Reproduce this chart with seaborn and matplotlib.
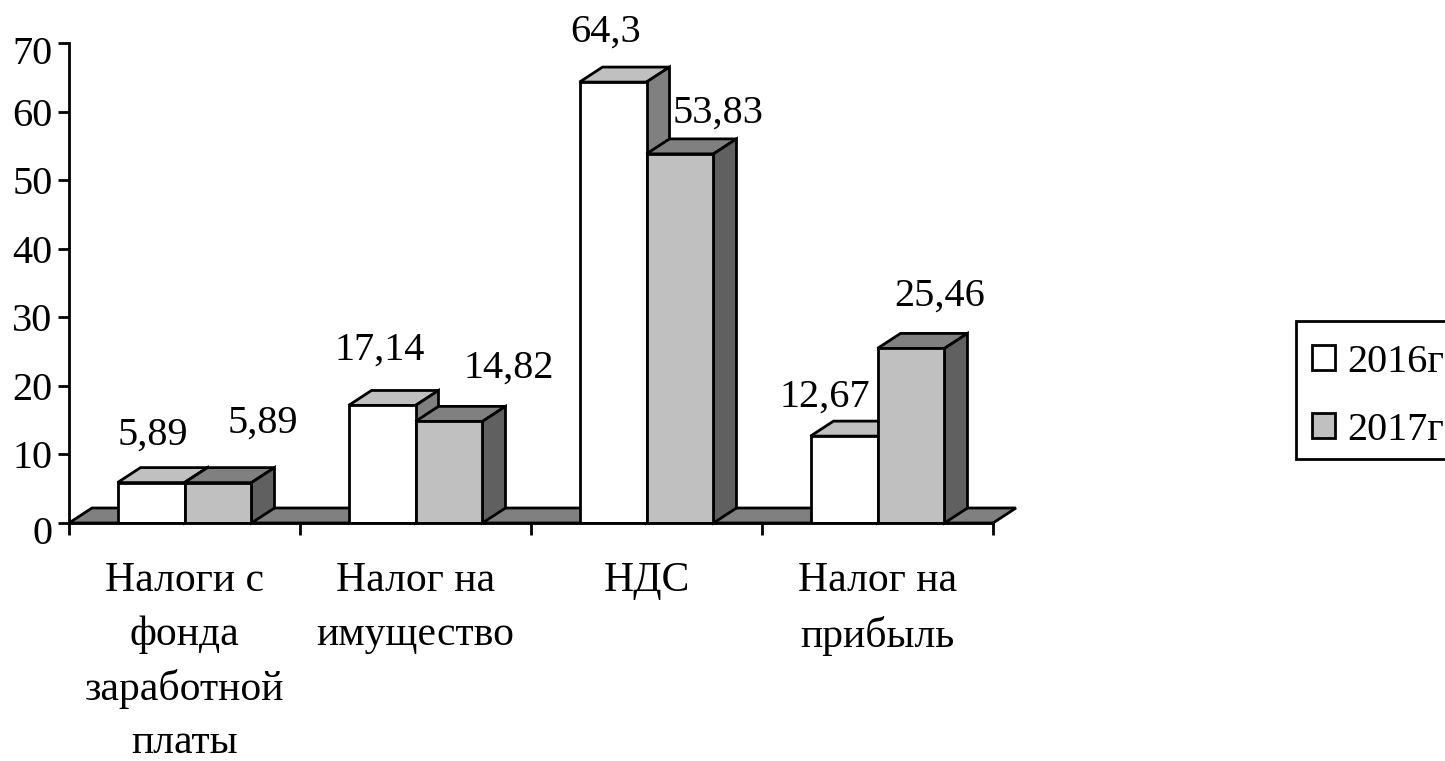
import pandas as pd
import matplotlib
matplotlib.use("Agg")
import matplotlib.pyplot as plt
from matplotlib.patches import Polygon, Rectangle
from matplotlib.transforms import Affine2D
import seaborn as sns

categories = ['Налоги с\nфонда\nзаработной\nплаты', 'Налог на\nимущество', 'НДС', 'Налог на\nприбыль']
years = ['2016г', '2017г']
values_2016 = [5.89, 17.14, 64.3, 12.67]
values_2017 = [5.89, 14.82, 53.83, 25.46]

colors = {'2016г': 'white', '2017г': '#c0c0c0'}
top_colors = {'2016г': '#c0c0c0', '2017г': '#808080'}
side_colors = {'2016г': '#808080', '2017г': '#606060'}

# desplazamiento de cada etiqueta respecto al centro superior de la barra (px)
offsets_2016 = [(2, 47), (-2, 55), (-7, 50), (-19, 39)]
offsets_2017 = [(45, 59), (60, 53), (38, 41), (29, 52)]

W, H = 1445, 761
LW = 2
FS = 29
FS_X = 30

sns.set_style('white')
plt.rcParams['font.family'] = ['Liberation Serif', 'DejaVu Serif']

df = pd.DataFrame({
    'cat': categories * 2,
    'year': [years[0]] * 4 + [years[1]] * 4,
    'val': values_2016 + values_2017,
})

fig = plt.figure(figsize=(W / 100, H / 100), dpi=100)
ax = fig.add_axes([69 / W, 1 - 523 / H, (993 - 69) / W, (523 - 43) / H])

sns.barplot(data=df, x='cat', y='val', hue='year', palette=colors, width=0.58, saturation=1,
            edgecolor='black', linewidth=LW, ax=ax)

ax.set_xlim(-0.5, 3.5)
ax.set_ylim(0, 70)
ax.set_xlabel('')
ax.set_ylabel('')
ax.set_yticks(range(0, 71, 10))

# profundidad del efecto 3D en unidades de datos
depth_x = 23 / 231
depth_y = 15 * 70 / 480

# piso
ax.add_patch(Polygon([(-0.5, 0), (3.5, 0), (3.5 + depth_x, depth_y), (-0.5 + depth_x, depth_y)],
                     closed=True, facecolor='#808080', edgecolor='black', linewidth=LW,
                     clip_on=False, zorder=1.5))

all_offsets = [offsets_2016, offsets_2017]
for i, container in enumerate(ax.containers):
    year = years[i]
    z = 2 + i
    for bar, off in zip(container.patches, all_offsets[i]):
        x0 = bar.get_x()
        x1 = x0 + bar.get_width()
        h = bar.get_height()
        bar.set_zorder(z + 0.2)
        ax.add_patch(Polygon([(x0, h), (x1, h), (x1 + depth_x, h + depth_y), (x0 + depth_x, h + depth_y)],
                             closed=True, facecolor=top_colors[year], edgecolor='black',
                             linewidth=LW, clip_on=False, zorder=z))
        ax.add_patch(Polygon([(x1, 0), (x1 + depth_x, depth_y), (x1 + depth_x, h + depth_y), (x1, h)],
                             closed=True, facecolor=side_colors[year], edgecolor='black',
                             linewidth=LW, clip_on=False, zorder=z))
        ax.annotate(f'{h:g}'.replace('.', ','), ((x0 + x1) / 2, h), xytext=off,
                    textcoords='offset pixels', ha='center', va='center', fontsize=FS,
                    color='black', annotation_clip=False, zorder=6)

sns.despine(ax=ax)
for s in ['left', 'bottom']:
    ax.spines[s].set_linewidth(LW)
    ax.spines[s].set_color('black')
    ax.spines[s].set_zorder(5)

ax.set_xticks([-0.5, 0.5, 1.5, 2.5, 3.5], minor=True)
ax.tick_params(axis='x', which='minor', length=8.5, width=LW, color='black', bottom=True)
ax.tick_params(axis='x', which='major', length=0, pad=28, labelsize=FS_X, labelcolor='black')
ax.tick_params(axis='y', length=8, width=LW, color='black', left=True, pad=4, labelsize=FS, labelcolor='black')
for t in ax.get_xticklabels():
    t.set_linespacing(1.5)

# el 0 y el 70 quedan un poco mas abajo que su marca
ylabels = ax.get_yticklabels()
for t in [ylabels[0], ylabels[-1]]:
    t.set_transform(t.get_transform() + Affine2D().translate(0, -7))

handles, labels = ax.get_legend_handles_labels()
ax.get_legend().remove()
# marco aparte: las filas no quedan centradas dentro del recuadro
fig.add_artist(Rectangle((1296 / W, 1 - 459 / H), 160 / W, 138 / H, transform=fig.transFigure,
                         facecolor='white', edgecolor='black', linewidth=LW))
fig.legend(handles, labels, loc='upper left', bbox_to_anchor=(1296 / W, 1 - 328 / H), borderaxespad=0,
           fontsize=FS, frameon=False, labelcolor='black',
           handlelength=0.57, handleheight=0.57, handletextpad=0.31, borderpad=0.39, labelspacing=0.77)

fig.savefig('out.png', dpi=100)
